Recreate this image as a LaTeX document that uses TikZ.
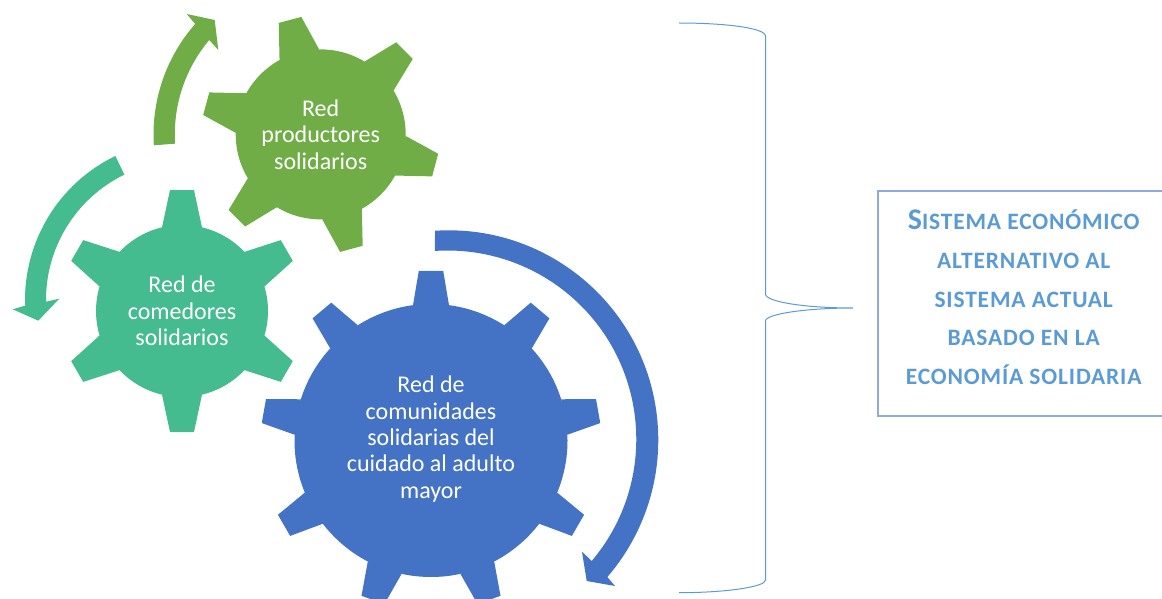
\documentclass[tikz,border=0pt]{standalone}
\usepackage{fontspec}
\setmainfont{Carlito}
\newfontfamily\sidefont[LetterSpace=3.5]{Carlito}
\usepackage{tikz}
\usetikzlibrary{calc}

\definecolor{gearG}{HTML}{70AD47}
\definecolor{gearT}{HTML}{44BC8F}
\definecolor{gearB}{HTML}{4472C4}
\definecolor{lineB}{HTML}{5B9BD5}
\definecolor{boxB}{HTML}{8FAADC}

% #1 centre, #2 colour, #3 angles, #4 base x, #5 base half width, #6 outer x, #7 outer half width
\newcommand{\gearteeth}[7]{
	\foreach \a in {#3}
		\fill[#2,shift={(#1.center)},rotate=\a] (#4,-#5) -- (#6,-#7) -- (#6,#7) -- (#4,#5) -- cycle;
}

\begin{document}
\begin{tikzpicture}[x=1pt,y=1pt]
	\tikzstyle{gear}=[circle,inner sep=0pt,text=white,align=center,font=\fontsize{24}{26.4}\selectfont]
	\tikzstyle{side}=[lineB,font=\sidefont\fontsize{23.5}{38.7}\selectfont\bfseries,align=center]
	
	\useasboundingbox (0,-599) rectangle (1162,0);
	
	\node[gear,fill=gearG,minimum size=170pt] (RP) at (320.7,-134.4) {Red\\productores\\solidarios};
	\node[gear,fill=gearT,minimum size=172pt] (RC) at (182,-311) {Red de\\comedores\\solidarios};
	\node[gear,fill=gearB,minimum size=273pt] (RU) at (431,-440.5) {};
	\node[gear] (RUtext) at (431,-439) {Red de\\comunidades\\solidarias del\\cuidado al adulto\\mayor};
	
	\gearteeth{RP}{gearG}{45,105,...,345}{82.5}{20.5}{118.5}{11.7}
	\gearteeth{RC}{gearT}{30,90,...,330}{83.6}{20}{121}{12}
	\gearteeth{RU}{gearB}{10,50,...,330}{135.3}{18}{169.7}{12.2}
	
	\coordinate (cP) at (321,-134.5);
	\coordinate (cC) at (185,-300);
	\coordinate (cU) at (448.6,-440);
	
	\fill[gearG] ($(cP)+(183.7:167.5)$) arc[start angle=183.7,end angle=138.7,radius=167.5]
		-- (186.7,-14) -- (214.7,-20) -- (218.3,-50) -- (209.3,-40)
		arc[start angle=139.8,end angle=183.7,radius=146] -- cycle;
	\fill[gearT] ($(cC)+(115.8:160)$) arc[start angle=115.8,end angle=182,radius=160]
		-- (12.7,-309.3) -- (38.3,-320.7) -- (59.3,-298.7) -- (46,-301.7)
		arc[start angle=180.7,end angle=116,radius=139.5] -- cycle;
	\fill[gearB] ($(cU)+(93.7:209.7)$) arc[start angle=93.7,end angle=-40.8,radius=209.7]
		-- (615,-586) -- (586.7,-581) -- (582,-551.7) -- (591.7,-561)
		arc[start angle=-40.2,end angle=93.9,radius=188.7] -- cycle;
	
	\coordinate (Btop) at (679,-23);
	\coordinate (Btip) at (853,-308);
	\coordinate (Bbot) at (679,-592.7);
	\draw[lineB,line width=1pt] (Btop) .. controls (725,-23) and (765.5,-28) .. (765.5,-36)
		-- (765.5,-294) .. controls (765.5,-302) and (806,-308) .. (Btip)
		.. controls (806,-308) and (765.5,-314) .. (765.5,-321)
		-- (765.5,-580) .. controls (765.5,-587) and (725,-592.7) .. (Bbot);
	
	\node[draw=boxB,line width=1.6pt,minimum width=291.4pt,minimum height=225pt,inner sep=0pt] (SE) at (1023.7,-303.5) {};
	\node[side] (SEtext) at (1023.7,-297.5) {{\fontsize{30}{38.7}\selectfont S}ISTEMA ECONÓMICO\\ALTERNATIVO AL\\SISTEMA ACTUAL\\BASADO EN LA\\ECONOMÍA SOLIDARIA};
\end{tikzpicture}
\end{document}
